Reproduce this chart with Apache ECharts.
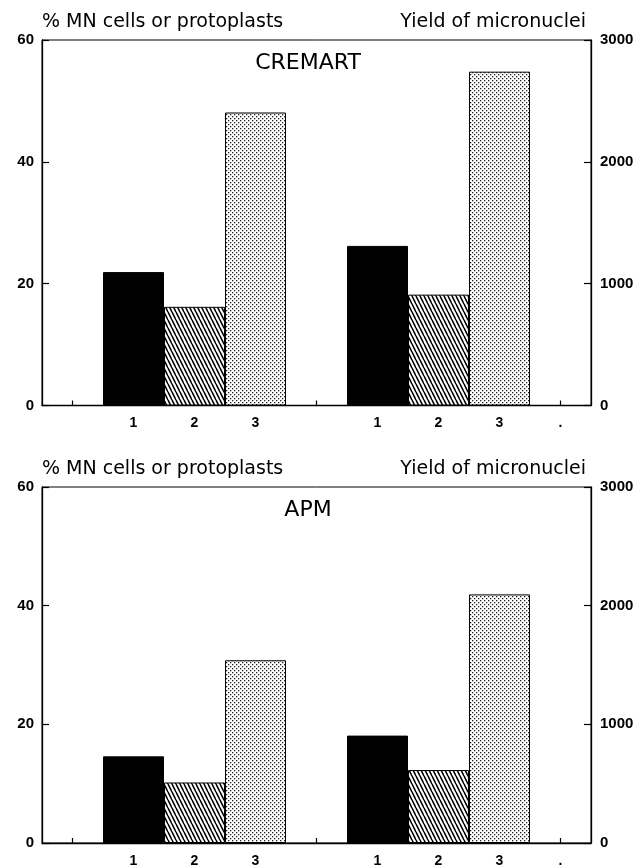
<!DOCTYPE html>
<html>
<head>
<meta charset="utf-8">
<script src="https://cdn.jsdelivr.net/npm/echarts@6/dist/echarts.min.js"></script>
<style>
html,body{margin:0;padding:0;background:#fff;}
#chart{width:638px;height:868px;}
</style>
</head>
<body>
<div id="chart"></div>
<script>
// ---- data ----
const categories = ['', '1', '2', '3', '', '1', '2', '3', '.'];
const leftSlots = [1, 2, 3];
const rightSlots = [5, 6, 7];
const cremartPct = [21.9, 16.2, 48.1];      // % MN cells or protoplasts
const cremartYield = [1310, 910, 2740];     // yield of micronuclei
const apmPct = [14.6, 10.2, 30.8];
const apmYield = [905, 615, 2095];
const pctTicks = { min: 0, max: 60, interval: 20 };
const yieldTicks = { min: 0, max: 3000, interval: 1000 };
const tickSlots = [0, 3, 4, 7, 8];
const panelTitles = ['CREMART', 'APM'];
const leftAxisTitle = '% MN cells or protoplasts';
const rightAxisTitle = 'Yield of micronuclei';

// ---- patterns ----
function hatchPattern() {
  const c = document.createElement('canvas');
  c.width = 4; c.height = 8;
  const g = c.getContext('2d');
  g.fillStyle = '#fff'; g.fillRect(0, 0, 4, 8);
  g.strokeStyle = '#000'; g.lineWidth = 1.6;
  for (const x0 of [-4, 0, 4]) {
    g.beginPath(); g.moveTo(x0, 0); g.lineTo(x0 + 4, 8); g.stroke();
  }
  return c;
}
function dotPattern() {
  const c = document.createElement('canvas');
  c.width = 4; c.height = 4;
  const g = c.getContext('2d');
  g.fillStyle = '#fff'; g.fillRect(0, 0, 4, 4);
  g.fillStyle = '#222';
  g.fillRect(0, 0, 1.3, 1.3);
  g.fillRect(2, 2, 1.3, 1.3);
  return c;
}
const fills = [
  '#000',
  { image: hatchPattern(), repeat: 'repeat' },
  { image: dotPattern(), repeat: 'repeat' }
];

function buildData(values, slots) {
  const arr = categories.map(() => null);
  values.forEach((v, i) => {
    arr[slots[i]] = { value: v, itemStyle: { color: fills[i], borderColor: '#000', borderWidth: 1 } };
  });
  return arr;
}

const FONT = 'DejaVu Sans';
const numFont = { fontFamily: 'Liberation Sans', fontWeight: 'bold', fontSize: 15, color: '#000',
  formatter: (v) => String(v) };
const gridTops = [40, 487];
const gridH = 365.5;

const grids = gridTops.map(t => ({
  left: 42, right: 47, top: t, height: gridH,
  show: true, borderColor: '#000', borderWidth: 1, containLabel: false
}));

const xAxes = gridTops.map((t, i) => ({
  type: 'category', gridIndex: i, data: categories, boundaryGap: true,
  axisLine: { lineStyle: { color: '#000', width: 1.3 } },
  axisTick: { show: true, inside: true, length: 5, alignWithLabel: true,
    interval: (idx) => tickSlots.includes(idx), lineStyle: { color: '#000', width: 1.2 } },
  axisLabel: { interval: 0, margin: 11, fontFamily: 'Liberation Sans', fontWeight: 'bold', fontSize: 14, color: '#000' },
  splitLine: { show: false }
}));

const yAxes = [];
gridTops.forEach((t, i) => {
  yAxes.push({
    type: 'value', gridIndex: i, position: 'left', min: pctTicks.min, max: pctTicks.max, interval: pctTicks.interval,
    axisLine: { show: true, lineStyle: { color: '#000', width: 1.3 } },
    axisTick: { show: true, inside: true, length: 7, lineStyle: { color: '#000', width: 1.2 } },
    axisLabel: Object.assign({ margin: 8 }, numFont),
    splitLine: { show: false }
  });
  yAxes.push({
    type: 'value', gridIndex: i, position: 'right', min: yieldTicks.min, max: yieldTicks.max, interval: yieldTicks.interval,
    axisLine: { show: true, lineStyle: { color: '#000', width: 1.3 } },
    axisTick: { show: true, inside: true, length: 7, lineStyle: { color: '#000', width: 1.2 } },
    axisLabel: Object.assign({ margin: 9 }, numFont),
    splitLine: { show: false }
  });
});

const panels = [[cremartPct, cremartYield], [apmPct, apmYield]];
const series = [];
panels.forEach((p, i) => {
  series.push({
    type: 'bar', xAxisIndex: i, yAxisIndex: 2 * i, data: buildData(p[0], leftSlots),
    barWidth: '100%', barGap: '-100%', barCategoryGap: 0, silent: true, animation: false
  });
  series.push({
    type: 'bar', xAxisIndex: i, yAxisIndex: 2 * i + 1, data: buildData(p[1], rightSlots),
    barWidth: '100%', barGap: '-100%', barCategoryGap: 0, silent: true, animation: false
  });
});

const graphics = [];
gridTops.forEach((t, i) => {
  graphics.push({ type: 'text', left: 42, top: t - 27,
    style: { text: leftAxisTitle, fontFamily: FONT, fontSize: 19, fill: '#000' } });
  graphics.push({ type: 'text', right: 52, top: t - 27,
    style: { text: rightAxisTitle, fontFamily: FONT, fontSize: 19, fill: '#000' } });
  graphics.push({ type: 'text', x: 308, y: t + 23,
    style: { text: panelTitles[i], fontFamily: FONT, fontSize: 22, fill: '#000', textAlign: 'center', textVerticalAlign: 'middle' } });
});

const chart = echarts.init(document.getElementById('chart'), null, { renderer: 'canvas' });
chart.setOption({
  animation: false,
  backgroundColor: '#fff',
  grid: grids,
  xAxis: xAxes,
  yAxis: yAxes,
  series: series,
  graphic: graphics
});
</script>
</body>
</html>
